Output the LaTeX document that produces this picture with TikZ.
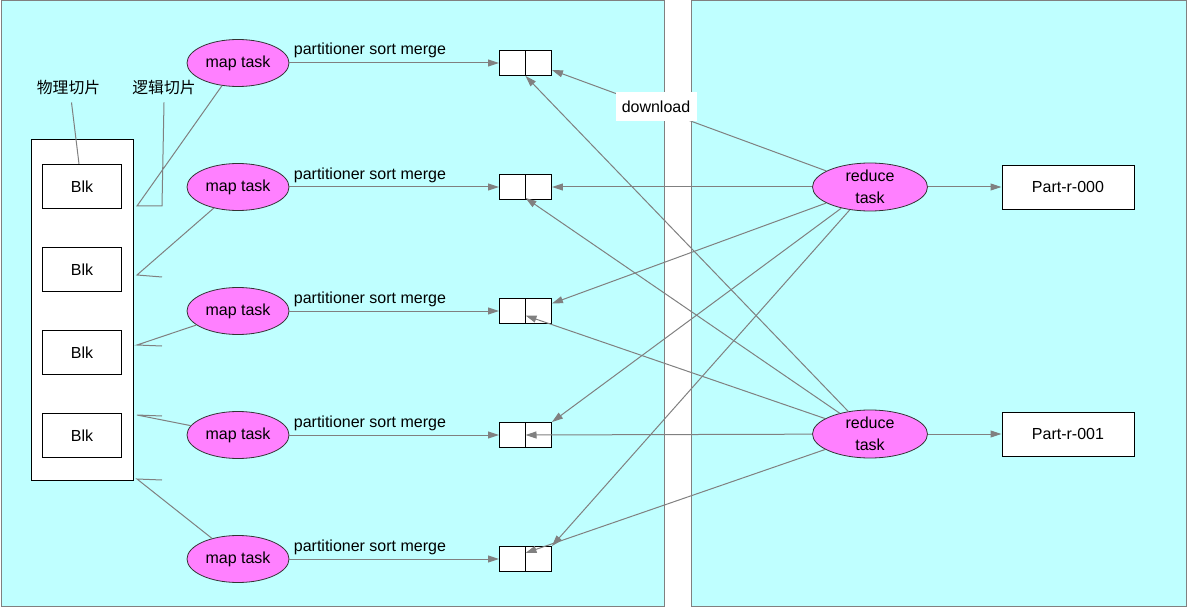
\documentclass[tikz,border=0pt]{standalone}
\usepackage{fontspec}
\setmainfont{Liberation Sans}
\newfontfamily\cjk{Noto Sans CJK SC}
\usetikzlibrary{arrows.meta,shapes.geometric}
\definecolor{panelc}{RGB}{191,255,255}
\definecolor{taskc}{RGB}{255,128,255}
\definecolor{linec}{RGB}{128,128,128}
\begin{document}
\begin{tikzpicture}[x=1pt,y=-1pt,
  font=\fontsize{16}{22}\selectfont,
  panel/.style={draw=linec,fill=panelc,line width=1pt},
  task/.style={ellipse,draw=black!80,fill=taskc,line width=0.8pt,inner sep=0pt,minimum width=102pt,minimum height=47pt},
  rtask/.style={task,inner sep=-5pt,minimum width=115pt,minimum height=48pt,align=center},
  box/.style={draw=black,fill=white,line width=0.9pt,inner sep=0pt},
  blk/.style={box,minimum width=79pt,minimum height=44pt},
  buf/.style={box,minimum width=52pt,minimum height=25pt},
  part/.style={box,minimum width=132pt,minimum height=44pt},
  arr/.style={draw=linec,line width=1pt,-{Triangle[length=11pt,width=7pt]}},
  thinl/.style={draw=linec,line width=1pt},
  psm/.style={pos=0,anchor=base west,xshift=4pt,yshift=8pt,inner sep=0pt},
  cjklbl/.style={font=\cjk\fontsize{15.8}{19}\selectfont,inner sep=3pt},
  dl/.style={fill=white,inner sep=0pt,minimum width=81pt,minimum height=29pt}
  ]
\useasboundingbox (0,0) rectangle (1187,607);
% panels
\path[panel] (1,1) rectangle (664,606);
\path[panel] (691,1) rectangle (1186,606);

% storage with blocks
\node[box,minimum width=102pt,minimum height=341pt] (store) at (82,309.5) {};
\node[blk] (k1) at (82,186.3) {Blk};
\node[blk] (k2) at (82,269.3) {Blk};
\node[blk] (k3) at (82,352.3) {Blk};
\node[blk] (k4) at (82,435.3) {Blk};

\node[cjklbl] (phys) at (68.5,88) {物理切片};
\node[cjklbl] (logi) at (164,88) {逻辑切片};

% map tasks
\node[task] (m1) at (238,63) {map task};
\node[task] (m2) at (238,187) {map task};
\node[task] (m3) at (238,311) {map task};
\node[task] (m4) at (238,435) {map task};
\node[task] (m5) at (238,559) {map task};

% buffers
\foreach \i/\y in {1/63,2/187,3/311,4/435,5/559}{
  \node[buf] (b\i) at (525.5,\y) {};
  \draw[line width=0.9pt] (b\i.north) -- (b\i.south);
}

% reduce tasks and outputs
\node[rtask] (r1) at (870,187) {reduce\\task};
\node[rtask] (r2) at (870,434) {reduce\\task};
\node[part] (p1) at (1068,187) {Part-r-000};
\node[part] (p2) at (1068,434) {Part-r-001};

% logical split marks
\coordinate (s1) at (137,206); \coordinate (e1) at (162,206);
\coordinate (s2) at (137,275); \coordinate (e2) at (162,277);
\coordinate (s3) at (137,345); \coordinate (e3) at (162,346);
\coordinate (s4) at (137,415); \coordinate (e4) at (162,416);
\coordinate (s5) at (137,479); \coordinate (e5) at (162,480);
\draw[thinl] (m1) -- (s1) -- (e1) -- ([yshift=-4pt]logi.south);
\draw[thinl] (m2) -- (s2) -- (e2);
\draw[thinl] (m3) -- (s3) -- (e3);
\draw[thinl] (m4) -- (s4) -- (e4);
\draw[thinl] (m5) -- (s5) -- (e5);
\draw[thinl] ([xshift=3pt,yshift=-4pt]phys.south) -- ([xshift=-3pt]k1.north);

% map -> buffer
\foreach \i in {1,...,5}{
  \draw[arr] (m\i) -- (b\i.west) node[psm] {partitioner sort merge};
}

% reduce 1 -> buffers
\draw[arr] (r1) -- ([yshift=-7pt]b1.east);
\draw[arr] (r1) -- (b2.east);
\draw[arr] (r1) -- ([yshift=7.5pt]b3.east);
\draw[arr] (r1) -- (b4.north east);
\draw[arr] (r1) -- (b5.north east);
% reduce 2 -> buffers
\draw[arr] (r2) -- (b1.south);
\draw[arr] (r2) -- ([yshift=2pt]b2.south);
\draw[arr] (r2) -- ([yshift=-4.5pt]b3.center);
\draw[arr] (r2) -- (b4.center);
\draw[arr] (r2) -- ([yshift=6pt]b5.center);

\node[dl] (dlabel) at (656,107) {download};

% reduce -> outputs
\draw[arr] (r1) -- (p1);
\draw[arr] (r2) -- (p2);
\end{tikzpicture}
\end{document}
